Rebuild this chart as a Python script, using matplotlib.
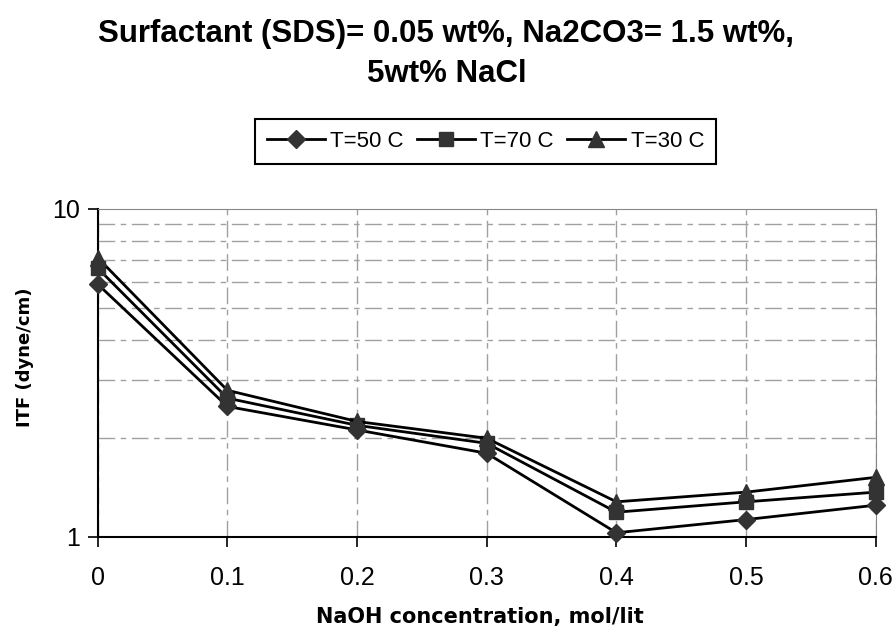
"""
IFT vs NaOH concentration at three temperatures (log scale)
"""

import matplotlib
matplotlib.use('Agg')
import matplotlib.pyplot as plt
from matplotlib.ticker import FixedLocator, NullFormatter

# data
naoh_conc = [0.0, 0.1, 0.2, 0.3, 0.4, 0.5, 0.6]
ift_50c = [5.9, 2.5, 2.12, 1.8, 1.03, 1.13, 1.25]
ift_70c = [6.6, 2.65, 2.19, 1.93, 1.19, 1.28, 1.37]
ift_30c = [7.1, 2.8, 2.25, 2.0, 1.28, 1.37, 1.52]

series_labels = ['T=50 C', 'T=70 C', 'T=30 C']
x_ticks = [0, 0.1, 0.2, 0.3, 0.4, 0.5, 0.6]
x_tick_labels = ['0', '0.1', '0.2', '0.3', '0.4', '0.5', '0.6']
y_ticks = [1, 10]
y_tick_labels = ['1', '10']
y_minor = [2, 3, 4, 5, 6, 7, 8, 9]

title_text = 'Surfactant (SDS)= 0.05 wt%, Na2CO3= 1.5 wt%,\n5wt% NaCl'
x_label = 'NaOH concentration, mol/lit'
y_label = 'ITF (dyne/cm)'

fig = plt.figure(figsize=(8.93, 6.31), dpi=100)
ax = fig.add_axes([0.1094, 0.149, 0.8713, 0.5198])

markers = ['D', 's', '^']
sizes = [9, 10, 11]
for yvals, lab, mk, ms in zip([ift_50c, ift_70c, ift_30c], series_labels, markers, sizes):
    ax.plot(naoh_conc, yvals, color='black', linewidth=2.0, marker=mk,
            markersize=ms, markerfacecolor='#333333', markeredgecolor='#333333',
            label=lab, clip_on=False, zorder=3)

ax.set_yscale('log')
ax.set_xlim(0, 0.6)
ax.set_ylim(1, 10)

ax.set_xticks(x_ticks)
ax.set_xticklabels(x_tick_labels, fontsize=18, family='Liberation Sans')
ax.yaxis.set_major_locator(FixedLocator(y_ticks))
ax.set_yticklabels(y_tick_labels, fontsize=18, family='Liberation Sans')
ax.yaxis.set_minor_locator(FixedLocator(y_minor))
ax.yaxis.set_minor_formatter(NullFormatter())
ax.tick_params(axis='y', which='minor', length=0)
ax.tick_params(axis='both', which='major', length=7, width=1.2, direction='out',
               color='black')
ax.tick_params(axis='x', which='major', pad=14)
ax.tick_params(axis='y', which='major', pad=6)

# gridlines, dash-dot style like the old spreadsheet chart
grid_kw = dict(color='#a0a0a0', linewidth=1.0, dashes=(12, 4, 4, 4))
ax.grid(True, axis='x', which='major', **grid_kw)
ax.grid(True, axis='y', which='minor', **grid_kw)
ax.set_axisbelow(True)

ax.spines['left'].set_color('black')
ax.spines['bottom'].set_color('black')
ax.spines['left'].set_linewidth(1.5)
ax.spines['bottom'].set_linewidth(1.5)
ax.spines['top'].set_color('#888888')
ax.spines['right'].set_color('#888888')

ax.set_xlabel(x_label, fontsize=15, fontweight='bold', family='DejaVu Sans', va='center')
ax.set_ylabel(y_label, fontsize=13, fontweight='bold', family='DejaVu Sans', va='center')
ax.xaxis.set_label_coords(0.491, -0.244)
ax.yaxis.set_label_coords(-0.0934, 0.549)

fig.text(0.5, 1 - 19 / 631, title_text, ha='center', va='top', fontsize=22.5,
         fontweight='bold', family='Liberation Sans', linespacing=1.45)

leg = fig.legend(loc='center', bbox_to_anchor=(485.5 / 893, 1 - 141.5 / 631), ncol=3,
                 frameon=True, fancybox=False, edgecolor='black', framealpha=1,
                 prop={'family': 'Liberation Sans', 'size': 16},
                 handlelength=2.6, columnspacing=0.6, handletextpad=0.25,
                 borderpad=0.55)
leg.get_frame().set_linewidth(1.5)

fig.savefig('out.png', dpi=100)
